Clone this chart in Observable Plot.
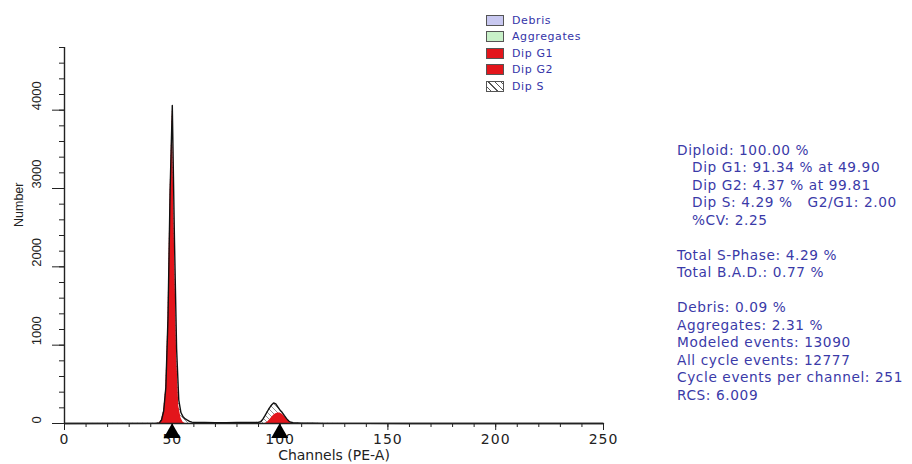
<!DOCTYPE html>
<html><head><meta charset="utf-8">
<script src="https://cdn.jsdelivr.net/npm/d3@7"></script>
<script src="https://cdn.jsdelivr.net/npm/@observablehq/plot@0.6"></script>
<style>
html,body{margin:0;padding:0;background:#fff;}
#wrap{position:relative;width:912px;height:464px;overflow:hidden;}
#legend{position:absolute;left:486px;top:11.75px;font:11px "DejaVu Sans";color:#3434a8;letter-spacing:0.6px}
.row{display:flex;align-items:center;height:16.5px}
.sw{width:18px;height:11px;border:1px solid #555;margin-right:8px;box-sizing:border-box}
#stats{position:absolute;left:677px;top:141.5px;font:13.7px "DejaVu Sans";color:#3a3aa8;line-height:17.5px;white-space:pre;letter-spacing:0.6px}
.ind{padding-left:15px}
g[aria-label="x-axis tick label"] text{letter-spacing:1px}
</style></head><body>
<svg width="0" height="0" style="position:absolute"><defs>
<pattern id="hatch" patternUnits="userSpaceOnUse" width="5" height="5"><rect width="5" height="5" fill="#fff"/><path d="M-1,-1L6,6M-1,4L1,6M4,-1L6,1" stroke="#666" stroke-width="0.7"/></pattern>
</defs></svg>
<div id="wrap"></div>
<script>
// Measured histogram (black outline)
const histChannels = [0, 42, 44, 45, 46, 47, 48, 49, 50, 51, 52, 53, 54, 55, 56, 57, 58, 59, 60, 65, 70, 75, 80, 85, 88, 90, 91, 92, 93, 94, 95, 96, 97, 98, 99, 100, 101, 102, 103, 104, 105, 106, 108, 110, 115, 120, 130, 140, 160, 200, 250];
const histCounts   = [0, 2, 8, 45, 160, 460, 1350, 3000, 4060, 2350, 950, 300, 140, 85, 58, 42, 28, 18, 14, 12, 11, 11, 12, 13, 14, 16, 22, 55, 100, 150, 195, 235, 262, 250, 210, 170, 140, 100, 62, 32, 16, 9, 6, 4, 3, 2, 1, 1, 0, 0, 0];
// Dip G1 model (red)
const g1Channels = [43, 44, 45, 46, 47, 48, 49, 50, 51, 52, 53, 54, 55, 56];
const g1Counts   = [0, 5, 42, 155, 450, 1320, 2950, 4000, 2300, 900, 220, 70, 15, 0];
// Dip G2 model (red)
const g2Channels = [93, 94, 95, 96, 97, 98, 99, 100, 101, 102, 103, 104, 105, 106];
const g2Counts   = [0, 12, 40, 75, 105, 125, 135, 133, 118, 92, 58, 28, 8, 0];
// Peak markers
const peakChannels = [49.90, 99.81];
// Ticks
const xMinorTicks = d3.range(0, 251, 10);
const xMajorTicks = [0, 50, 100, 150, 200, 250];
const yMinorTicks = d3.range(0, 4801, 200);
const yMajorTicks = [0, 1000, 2000, 3000, 4000];
// Legend
const legendLabels = ["Debris", "Aggregates", "Dip G1", "Dip G2", "Dip S"];
const legendFills = ["#c8c8f0", "#c8f0c8", "#e3151b", "#e3151b", "hatch"];
// Statistics text
const statsLines = ["Diploid: 100.00 %", "Dip G1: 91.34 % at 49.90", "Dip G2: 4.37 % at 99.81", "Dip S: 4.29 %   G2/G1: 2.00", "%CV: 2.25", "", "Total S-Phase: 4.29 %", "Total B.A.D.: 0.77 %", "", "Debris: 0.09 %", "Aggregates: 2.31 %", "Modeled events: 13090", "All cycle events: 12777", "Cycle events per channel: 251", "RCS: 6.009"];
const statsIndent = [0, 1, 1, 1, 1, 0, 0, 0, 0, 0, 0, 0, 0, 0, 0];

const hist = histChannels.map((c, i) => ({ch: c, n: histCounts[i]}));
const g1 = g1Channels.map((c, i) => ({ch: c, n: g1Counts[i]}));
const g2 = g2Channels.map((c, i) => ({ch: c, n: g2Counts[i]}));

const axisColor = "#222";
const plot = Plot.plot({
  width: 912, height: 464,
  marginLeft: 64, marginRight: 309, marginTop: 47, marginBottom: 41,
  x: {domain: [0, 250]},
  y: {domain: [0, 4800]},
  style: {fontFamily: "DejaVu Sans", color: axisColor, background: "transparent", overflow: "visible"},
  marks: [
    Plot.areaY(hist, {x: "ch", y: "n", fill: "url(#hatch)"}),
    Plot.areaY(g1, {x: "ch", y: "n", fill: "#e3151b"}),
    Plot.areaY(g2, {x: "ch", y: "n", fill: "#e3151b"}),
    Plot.lineY(hist, {x: "ch", y: "n", stroke: "#111", strokeWidth: 1.4}),
    Plot.axisX({ticks: xMinorTicks, tickSize: 4, tickFormat: () => "", label: null, stroke: axisColor}),
    Plot.axisX({ticks: xMajorTicks, tickSize: 7, tickPadding: 4, fontSize: 14, label: null, stroke: axisColor}),
    Plot.axisY({ticks: yMinorTicks, tickSize: 5, tickFormat: () => "", label: null, stroke: axisColor}),
    Plot.axisY({ticks: yMajorTicks, tickSize: 12, tickFormat: () => "", label: null, stroke: axisColor}),
    Plot.text(yMajorTicks, {y: d => d, text: d => String(d), frameAnchor: "left", dx: -28, rotate: -90, fontSize: 13, fontFamily: "Liberation Sans", fill: axisColor}),
    Plot.text(["Number"], {text: d => d, frameAnchor: "left", dx: -46, dy: -8.5, rotate: -90, fontSize: 12.5, fontFamily: "Liberation Sans", fill: axisColor}),
    Plot.text(["Channels (PE-A)"], {text: d => d, frameAnchor: "bottom", dy: 32, lineAnchor: "middle", fontSize: 14, fill: axisColor}),
    Plot.ruleY([0], {stroke: axisColor, strokeWidth: 1.6}),
    Plot.ruleX([0], {stroke: axisColor, strokeWidth: 1.4}),
    Plot.dot(peakChannels, {x: d => d, frameAnchor: "bottom", symbol: "triangle", r: 6.3, fill: "#000", stroke: "none", dy: 9.5})
  ]
});
plot.querySelectorAll('g[aria-label="x-axis tick label"] text').forEach(t => t.style.letterSpacing = "1px");
const wrap = document.getElementById("wrap");
wrap.appendChild(plot);

const legend = document.createElement("div");
legend.id = "legend";
legendLabels.forEach((lab, i) => {
  const row = document.createElement("div"); row.className = "row";
  const sw = document.createElement("div"); sw.className = "sw";
  if (legendFills[i] === "hatch") sw.style.background = "repeating-linear-gradient(45deg,#fff 0 2.5px,#555 2.5px 3.3px,#fff 3.3px 4.5px)";
  else sw.style.background = legendFills[i];
  const tx = document.createElement("span"); tx.textContent = lab;
  row.appendChild(sw); row.appendChild(tx); legend.appendChild(row);
});
wrap.appendChild(legend);

const stats = document.createElement("div");
stats.id = "stats";
statsLines.forEach((s, i) => {
  const d = document.createElement("div");
  d.textContent = s || " ";
  if (statsIndent[i]) d.className = "ind";
  stats.appendChild(d);
});
wrap.appendChild(stats);
</script></body></html>
